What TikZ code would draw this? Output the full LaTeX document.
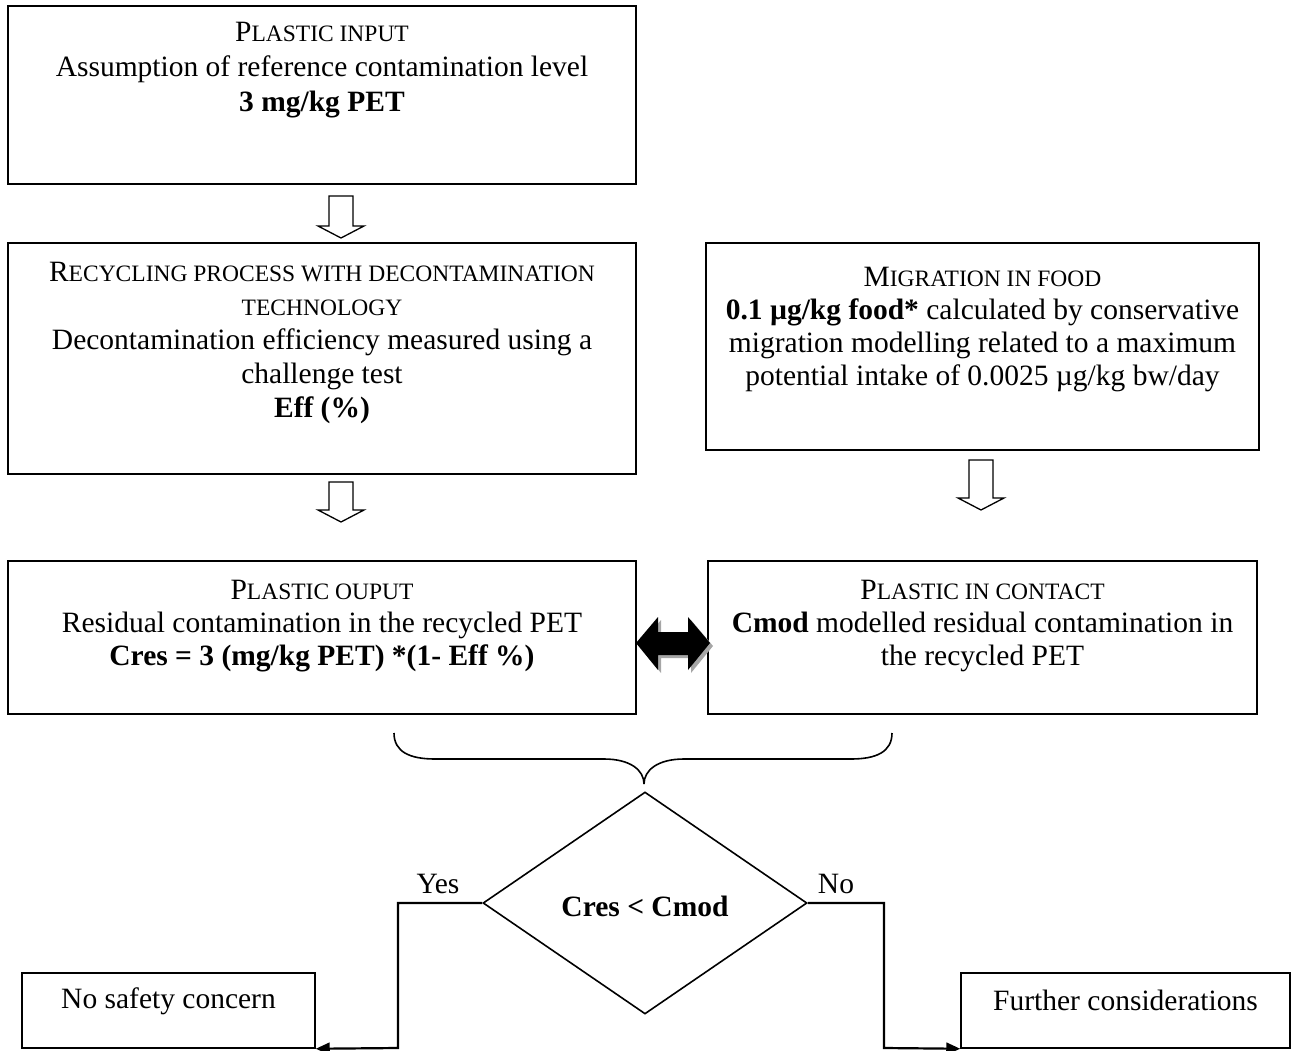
\documentclass[tikz,border=0pt]{standalone}
\usepackage{fontspec}
\setmainfont{Liberation Serif}
\usetikzlibrary{shapes.geometric,arrows.meta}
\newcommand{\mysc}[1]{{\fontsize{23.5}{33}\selectfont #1}}
\tikzset{
  box/.style={draw, line width=1.5pt, rectangle, inner sep=0pt},
  txt/.style={align=center, inner sep=0pt, anchor=north, font=\fontsize{29.5}{33}\selectfont},
  hollow/.style={draw, line width=1.3pt, fill=white, line join=miter},
  conn/.style={line width=2.2pt},
  tipped/.style={conn, -{Triangle[length=14pt,width=12pt]}},
}
\newcommand{\hollowarrow}[3]{% x, ytop, ytip
  \draw[hollow] (#1-12,#2) -- (#1+12,#2) -- (#1+12,#3-12) -- (#1+23,#3-12) -- (#1,#3) -- (#1-23,#3-12) -- (#1-12,#3-12) -- cycle;}
\begin{document}
\begin{tikzpicture}[x=1pt,y=-1pt]
\useasboundingbox (0,0) rectangle (1300,1051);
% boxes
\node[box, minimum width=628pt, minimum height=178pt] (b1) at (322,95) {};
\node[box, minimum width=628pt, minimum height=231pt] (b2) at (322,358.5) {};
\node[box, minimum width=553pt, minimum height=207pt] (b3) at (982.5,346.5) {};
\node[box, minimum width=628pt, minimum height=153pt] (b4) at (322,637.5) {};
\node[box, minimum width=549pt, minimum height=153pt] (b5) at (982.5,637.5) {};
\node[box, minimum width=293pt, minimum height=75pt] (b6) at (168.5,1010.5) {};
\node[box, minimum width=329pt, minimum height=75pt] (b7) at (1125.5,1010.5) {};
% texts
\node[txt, font=\fontsize{29.5}{35}\selectfont] (t1) at (322,22) {P\mysc{LASTIC INPUT}\\Assumption of reference contamination level\\\textbf{3 mg/kg PET}};
\node[txt, font=\fontsize{29.5}{34}\selectfont] (t2) at (322,262) {R\mysc{ECYCLING PROCESS WITH DECONTAMINATION}\\\mysc{TECHNOLOGY}\\Decontamination efficiency measured using a\\challenge test\\\textbf{Eff (\%)}};
\node[txt] (t3) at (982.5,267) {M\mysc{IGRATION IN FOOD}\\\textbf{0.1 µg/kg food*} calculated by conservative\\migration modelling related to a maximum\\potential intake of 0.0025 µg/kg bw/day};
\node[txt] (t4) at (322,580) {P\mysc{LASTIC OUPUT}\\Residual contamination in the recycled PET\\\textbf{Cres = 3 (mg/kg PET) *(1- Eff \%)}};
\node[txt] (t5) at (982.5,580) {P\mysc{LASTIC IN CONTACT}\\\textbf{Cmod} modelled residual contamination in\\the recycled PET};
\node[txt, anchor=center] (t6) at (168.5,1001) {No safety concern};
\node[txt, anchor=center] (t7) at (1125.5,1000) {Further considerations};
% hollow arrows
\hollowarrow{341}{196}{238}
\hollowarrow{341}{482}{522}
\hollowarrow{981}{460}{510}
% double arrow with shadow
\begin{scope}[shift={(3,3)}]
\fill[gray!70] (636,643) -- (658,617) -- (658,632) -- (688,632) -- (688,617) -- (710,643) -- (688,670) -- (688,655) -- (658,655) -- (658,670) -- cycle;
\end{scope}
\fill[black] (636,643) -- (658,617) -- (658,632) -- (688,632) -- (688,617) -- (710,643) -- (688,670) -- (688,655) -- (658,655) -- (658,670) -- cycle;
% brace
\draw[line width=1.6pt] (394,733) .. controls (394,752) and (410,759) .. (435,759) -- (604,759) .. controls (630,759) and (644,770) .. (644,784);
\draw[line width=1.6pt] (892,733) .. controls (892,752) and (876,759) .. (851,759) -- (684,759) .. controls (658,759) and (644,770) .. (644,784);
% decision
\node[draw, diamond, line width=1.6pt, minimum width=324pt, minimum height=222pt, inner sep=0pt] (dm) at (645,903) {};
\node[txt, anchor=center, font=\fontsize{29.5}{33}\selectfont\bfseries] (dt) at (645,906) {Cres < Cmod};
\coordinate (yb) at (398,1048);
\coordinate (nb) at (884,1048);
\draw[tipped] (dm.west) -| (yb) -- (b6.south east);
\draw[tipped] (dm.east) -| (nb) -- (b7.south west);
\node[txt, anchor=center] (yes) at (438,884) {Yes};
\node[txt, anchor=center] (no) at (836,884) {No};
\end{tikzpicture}
\end{document}
